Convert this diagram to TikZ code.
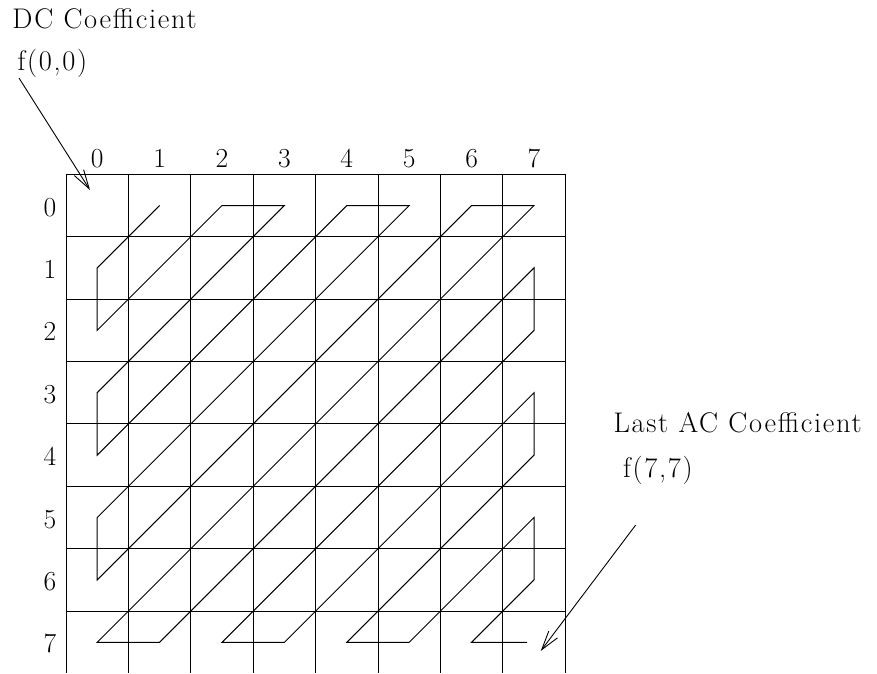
\documentclass[tikz,border=0pt]{standalone}
\usepackage{fontspec}
\setmainfont{Latin Modern Roman}[LetterSpace=6]
\usetikzlibrary{arrows.meta}
\begin{document}
\begin{tikzpicture}[x=1pt,y=-1pt, line width=1pt,
  lbl/.style={inner sep=0pt, font=\fontsize{28.4}{32}\selectfont},
  num/.style={inner sep=0pt, font=\fontsize{27.5}{30}\selectfont},
  ptr/.style={line width=0.9pt, -{Straight Barb[length=19pt,width=11pt,line width=0.9pt]}}]
\useasboundingbox (0,0) rectangle (877,673);
% grid
\foreach \j in {0,...,8} \draw ({66+62.4*\j},174.3) -- ({66+62.4*\j},673);
\foreach \i in {0,...,7} \draw (66,{174.3+62.4*\i}) -- (565.2,{174.3+62.4*\i});
% cell centres
\foreach \i in {0,...,7}{\foreach \j in {0,...,7}{\coordinate (c\j\i) at ({97.2+62.4*\j},{205.5+62.4*\i});}}
\coordinate (zend) at (527,642.3);
% labels
\foreach \j in {0,...,7} \node[num, anchor=base] (col\j) at ({97.2+62.4*\j},167.5) {\j};
\foreach \i in {0,...,7} \node[num, anchor=base] (row\i) at (50,{216+62.4*\i}) {\i};
% zigzag
\draw[line join=miter] (c10) -- (c01) -- (c02) -- (c20) -- (c30) -- (c03) -- (c04) -- (c40) -- (c50) -- (c05) -- (c06) -- (c60) -- (c70) -- (c07) -- (c17) -- (c71) -- (c72) -- (c27) -- (c37) -- (c73) -- (c74) -- (c47) -- (c57) -- (c75) -- (c76) -- (c67) -- (zend);
% texts
\node[lbl, anchor=base west] (dc) at (12,28.3) {DC Coefficient};
\node[lbl, anchor=base west] (f00) at (17,70.5) {f(0,0)};
\node[lbl, anchor=base west] (ac) at (613,432.3) {Last AC Coefficient};
\node[lbl, anchor=base west] (f77) at (622.5,477) {f(7,7)};
% arrows
\coordinate (a1s) at (19,78);
\coordinate (a1e) at (90,190);
\draw[ptr] (a1s) -- (a1e);
\coordinate (a2s) at (635.7,525);
\coordinate (a2e) at (540.7,651);
\draw[ptr] (a2s) -- (a2e);
\end{tikzpicture}
\end{document}
